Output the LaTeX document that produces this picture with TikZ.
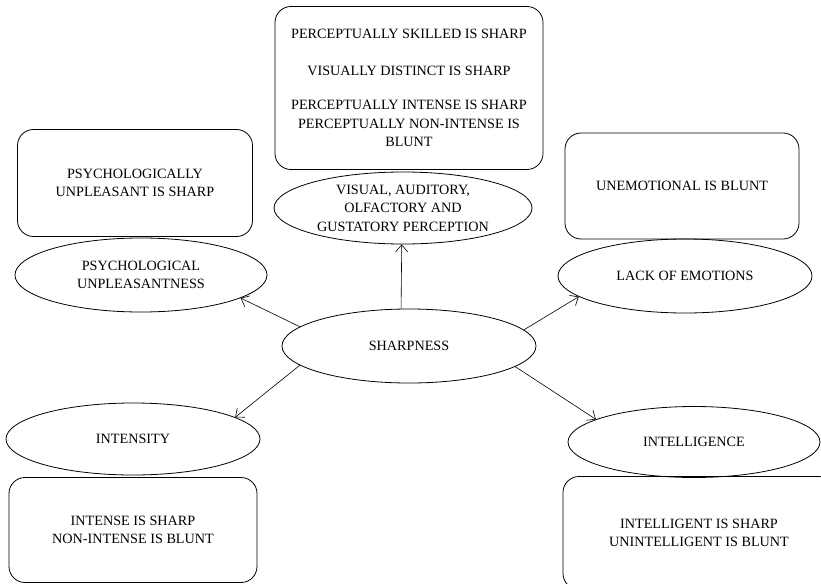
\documentclass[tikz,border=0pt]{standalone}
\usepackage{fontspec}
\setmainfont{Liberation Serif}
\usetikzlibrary{shapes.geometric,arrows.meta}

\begin{document}
\begin{tikzpicture}[x=1pt,y=-1pt,
                 font=\fontsize{14.2}{18.5}\selectfont,
                 oval/.style={ellipse,draw,line width=0.8pt,inner xsep=-30pt,inner ysep=-10pt,align=center},
                 card/.style={draw,rounded corners=16pt,line width=0.8pt,inner sep=0pt,align=center},
                 link/.style={line width=0.6pt,-{Straight Barb[length=7pt,width=12pt]}}]
                 \useasboundingbox (0,0) rectangle (821,583);
                 \clip (0,0) rectangle (821,583);
                 % boxes
                 \node[card,minimum width=268pt,minimum height=163pt](percbox)at(409,88){PERCEPTUALLY SKILLED IS SHARP\\[18pt] VISUALLY DISTINCT IS SHARP\\[16pt] PERCEPTUALLY INTENSE IS SHARP\\ PERCEPTUALLY NON-INTENSE IS\\ BLUNT};
                 \node[card,minimum width=235pt,minimum height=107pt](psybox)at(135,183){PSYCHOLOGICALLY\\ UNPLEASANT IS SHARP};
                 \node[card,minimum width=234pt,minimum height=106pt](emobox)at(682,186){UNEMOTIONAL IS BLUNT};
                 \node[card,minimum width=248pt,minimum height=105pt](intbox)at(133,530){INTENSE IS SHARP\\ NON-INTENSE IS BLUNT};
                 \node[card,minimum width=272pt,minimum height=113pt](iqbox)at(699,533){INTELLIGENT IS SHARP\\ UNINTELLIGENT IS BLUNT};
                 % ovals
                 \node[oval,minimum width=258pt,minimum height=72pt](perc)at(403,208){VISUAL, AUDITORY,\\ OLFACTORY AND\\ GUSTATORY PERCEPTION};
                 \node[oval,minimum width=252pt,minimum height=74pt](psy)at(141,275){PSYCHOLOGICAL\\ UNPLEASANTNESS};
                 \node[oval,minimum width=254pt,minimum height=74pt](emo)at(685,276){LACK OF EMOTIONS};
                 \node[oval,minimum width=254pt,minimum height=74pt](sharp)at(409,346){SHARPNESS};
                 \node[oval,minimum width=254pt,minimum height=72pt](int)at(133,439){INTENSITY};
                 \node[oval,minimum width=252pt,minimum height=71pt](iq)at(694,442){INTELLIGENCE};
                 % arrows
                 \draw[link](sharp.102)--(perc.268);
                 \draw[link](sharp.170)--(psy.347);
                 \draw[link](sharp.8)--(emo.191);
                 \draw[link](sharp.190)--(int.12);
                 \draw[link](sharp.349)--(iq.167);
               \end{tikzpicture}
\end{document}
